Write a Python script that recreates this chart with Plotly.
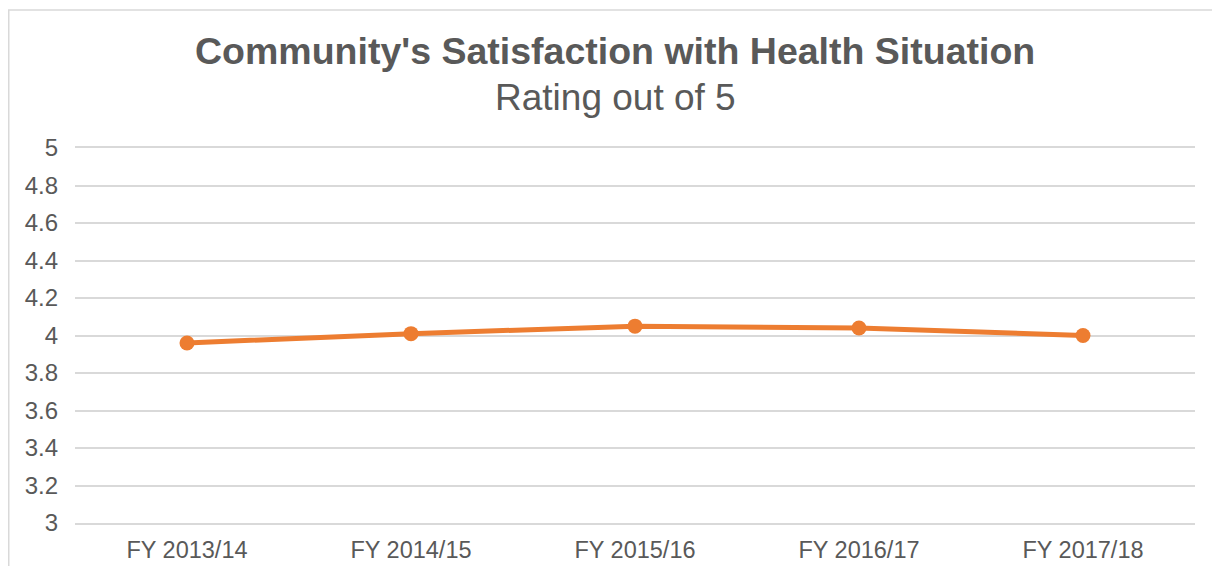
import plotly.graph_objects as go

categories = ["FY 2013/14", "FY 2014/15", "FY 2015/16", "FY 2016/17", "FY 2017/18"]
ratings = [3.96, 4.01, 4.05, 4.04, 4.00]
y_ticks = [3, 3.2, 3.4, 3.6, 3.8, 4, 4.2, 4.4, 4.6, 4.8, 5]
y_tick_labels = ["3", "3.2", "3.4", "3.6", "3.8", "4", "4.2", "4.4", "4.6", "4.8", "5"]

TEXT = "#595959"
GRID = "#D9D9D9"
ORANGE = "#ED7D31"
FONT = "Liberation Sans, Arial, sans-serif"

OFF = 8  # page body margin
W, H = 1220 - OFF, 574 - 2 * OFF
# plot area in screen coords: x 75..1195, y 148..523
L = 75 - OFF
T = 148 - OFF
R = W - (1195 - OFF)
B = H - (523 - OFF)
PW, PH = W - L - R, H - T - B

def px_x(x):
    return (x - OFF - L) / PW

def px_y(y):
    return (H - B - (y - OFF)) / PH

fig = go.Figure()
fig.add_trace(go.Scatter(
    x=categories, y=ratings, mode="lines+markers",
    line=dict(color=ORANGE, width=5),
    marker=dict(color=ORANGE, size=15),
    hoverinfo="x+y", showlegend=False,
))

fig.update_layout(
    width=W, height=H,
    margin=dict(l=L, r=R, t=T, b=B, autoexpand=False),
    paper_bgcolor="white", plot_bgcolor="white",
    font=dict(family=FONT, color=TEXT, size=24),
    xaxis=dict(
        type="category", range=[-0.5, 4.5], showgrid=False,
        showline=True, mirror=True, linecolor=GRID, linewidth=1.5,
        ticks="", tickfont=dict(size=23.5, color=TEXT),
        ticklabelstandoff=5, fixedrange=True,
    ),
    yaxis=dict(
        range=[3, 5], tickvals=y_ticks, ticktext=y_tick_labels,
        showgrid=True, gridcolor=GRID, gridwidth=1.5,
        zeroline=False, showline=False, ticks="",
        tickfont=dict(size=24, color=TEXT), ticklabelstandoff=16,
        fixedrange=True,
    ),
    annotations=[
        dict(text="<b>Community's Satisfaction with Health Situation</b>",
             xref="paper", yref="paper", x=px_x(615), y=px_y(51),
             xanchor="center", yanchor="middle", showarrow=False,
             font=dict(size=37.5, color=TEXT, family=FONT)),
        dict(text="Rating out of 5",
             xref="paper", yref="paper", x=px_x(615), y=px_y(97),
             xanchor="center", yanchor="middle", showarrow=False,
             font=dict(size=37, color=TEXT, family=FONT)),
    ],
    shapes=[
        dict(type="rect", xref="paper", yref="paper",
             x0=px_x(OFF + 0.75), y0=px_y(600), x1=px_x(1240), y1=px_y(10),
             line=dict(color=GRID, width=1.5), fillcolor="rgba(0,0,0,0)",
             layer="below"),
    ],
)

fig.write_html("out.html")
